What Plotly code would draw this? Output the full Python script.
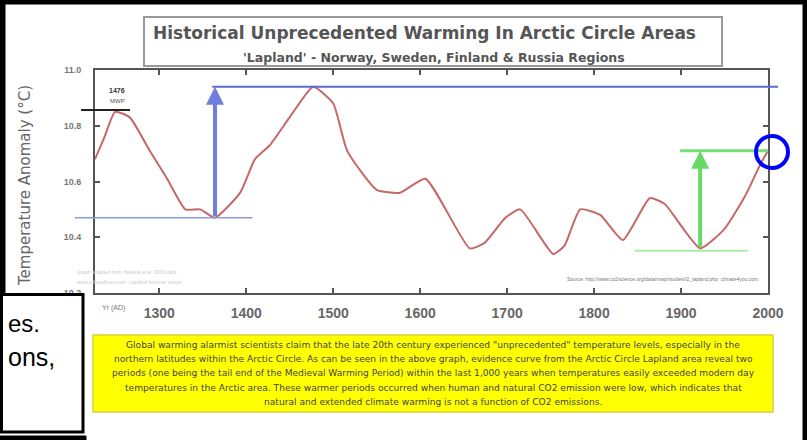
import plotly.graph_objects as go

# ---- data ----
years = [1226, 1237, 1249, 1266, 1289, 1309, 1330, 1347, 1364, 1393, 1410, 1427, 1452,
         1477, 1500, 1516, 1550, 1577, 1606, 1657, 1674, 1698, 1715, 1753, 1766, 1784,
         1807, 1833, 1864, 1881, 1922, 1950, 1974, 1991, 2000]
anomaly = [10.68, 10.76, 10.85, 10.83, 10.71, 10.61, 10.50, 10.50, 10.47, 10.56, 10.68,
           10.73, 10.84, 10.94, 10.88, 10.71, 10.57, 10.56, 10.61, 10.36, 10.38, 10.47,
           10.50, 10.34, 10.37, 10.50, 10.48, 10.39, 10.54, 10.52, 10.36, 10.43, 10.55,
           10.66, 10.71]
x_ticks = [1300, 1400, 1500, 1600, 1700, 1800, 1900, 2000]
y_ticks = [10.2, 10.4, 10.6, 10.8, 11.0]
y_tick_labels = ["10.2", "10.4", "10.6", "10.8", "11.0"]

title = "Historical Unprecedented Warming In Arctic Circle Areas"
subtitle = "'Lapland' - Norway, Sweden, Finland & Russia Regions"
y_title = "Temperature Anomaly (°C)"
note_lines = [
    "Global warming alarmist scientists claim that the late 20th century experienced \"unprecedented\" temperature levels, especially in the",
    "northern latitudes within the Arctic Circle. As can be seen in the above graph, evidence curve from the Arctic Circle Lapland area reveal two",
    "periods (one being the tail end of the Medieval Warming Period) within the last 1,000 years when temperatures easily exceeded modern day",
    "temperatures in the Arctic area. These warmer periods occurred when human and natural CO2 emission were low, which indicates that",
    "natural and extended climate warming is not a function of CO2 emissions.",
]

XMIN, XMAX = 1226, 2000
YMIN, YMAX = 10.2, 11.0
W, H = 807, 440
L, R, T, B = 95, 39, 70, 147
PW, PH = W - L - R, H - T - B


def px_x(p):  # page pixel -> paper x
    return (p - L) / PW


def px_y(p):  # page pixel -> paper y
    return (H - B - p) / PH


def dx(v):  # data year -> paper x
    return (v - XMIN) / (XMAX - XMIN)


def dy(v):  # data value -> paper y
    return (v - YMIN) / (YMAX - YMIN)


def label(x, y, text, size, color="#555", weight=400, xanchor="center", angle=0,
          family="Liberation Sans"):
    return dict(xref="paper", yref="paper", x=px_x(x), y=px_y(y), text=text,
                showarrow=False, xanchor=xanchor, yanchor="middle", textangle=angle,
                font=dict(family=family, size=size, color=color, weight=weight))


# derived annotation anchors from the data
early = [(y, v) for y, v in zip(years, anomaly) if 1300 <= y <= 1420]
min1_year, min1_val = min(early, key=lambda t: t[1])
peak_year, peak_val = max(zip(years, anomaly), key=lambda t: t[1])
late = [(y, v) for y, v in zip(years, anomaly) if y >= 1890]
min2_year, min2_val = min(late, key=lambda t: t[1])
end_val = anomaly[-1]

fig = go.Figure()
fig.add_trace(go.Scatter(x=years, y=anomaly, mode="lines",
                         line=dict(color="#c46868", width=2, shape="spline", smoothing=0.5),
                         hoverinfo="skip"))

axis_common = dict(showline=True, linecolor="#555", linewidth=2, mirror="ticks",
                   ticks="inside", ticklen=5, tickcolor="#555", tickwidth=1.5,
                   showgrid=False, zeroline=False)
fig.update_xaxes(range=[XMIN, XMAX], tickvals=x_ticks, ticklabelstandoff=6,
                 tickfont=dict(family="Liberation Sans", size=14, color="#666", weight=700),
                 **axis_common)
fig.update_yaxes(range=[YMIN, YMAX], tickvals=y_ticks, ticktext=y_tick_labels,
                 ticklabelstandoff=10,
                 tickfont=dict(family="Liberation Sans", size=9, color="#777", weight=700),
                 **axis_common)

shapes = []
ann = []

# title box
shapes.append(dict(type="rect", xref="paper", yref="paper", x0=px_x(144), x1=px_x(722),
                   y0=px_y(66), y1=px_y(17), line=dict(color="#999", width=2),
                   fillcolor="white", layer="above"))
ann.append(label(424, 33, title, 17, "#555", 700, family="DejaVu Sans"))
ann.append(label(434, 57, subtitle, 12.5, "#555", 700, family="DejaVu Sans"))

# y-axis title and x label
ann.append(label(25, 186, y_title, 15, "#666", 400, angle=-90, family="DejaVu Sans"))
ann.append(label(113, 308, "Yr (AD)", 7, "#777"))

# blue annotation
shapes.append(dict(type="line", xref="paper", yref="paper", x0=dx(min1_year) - 0.004, x1=px_x(778),
                   y0=dy(peak_val), y1=dy(peak_val), line=dict(color="#5a6bd0", width=2)))
shapes.append(dict(type="line", xref="paper", yref="paper", x0=px_x(75), x1=dx(min1_year + 43),
                   y0=dy(min1_val), y1=dy(min1_val), line=dict(color="#8a9ae0", width=1.5)))
ann.append(dict(x=min1_year, y=peak_val, ax=min1_year, ay=min1_val, axref="x", ayref="y",
                xref="x", yref="y", text="", showarrow=True, arrowhead=2, arrowsize=0.9,
                arrowwidth=4, arrowcolor="#6f7fe0"))

# green annotation
shapes.append(dict(type="line", xref="paper", yref="paper", x0=dx(min2_year - 23), x1=1.0,
                   y0=dy(end_val), y1=dy(end_val), line=dict(color="#77dd77", width=3)))
shapes.append(dict(type="line", xref="paper", yref="paper", x0=dx(min2_year - 75), x1=dx(min2_year + 55),
                   y0=dy(min2_val) - 0.01, y1=dy(min2_val) - 0.01, line=dict(color="#a6eea6", width=2)))
ann.append(dict(x=min2_year, y=end_val, ax=min2_year, ay=min2_val, axref="x", ayref="y",
                xref="x", yref="y", text="", showarrow=True, arrowhead=2, arrowsize=0.9,
                arrowwidth=4, arrowcolor="#66d966"))

# blue circle
shapes.append(dict(type="circle", xref="paper", yref="paper", x0=px_x(756), x1=px_x(788),
                   y0=px_y(168), y1=px_y(136), line=dict(color="#0000ff", width=4), layer="above"))

# small early marker
shapes.append(dict(type="line", xref="paper", yref="paper", x0=px_x(81), x1=px_x(130),
                   y0=px_y(110), y1=px_y(110), line=dict(color="#222", width=2)))
ann.append(label(117, 90, "1476", 7, "#333", 700))
ann.append(label(117, 101, "MWP", 6, "#555"))

# faint source texts
ann.append(label(760, 279, "Source: http://www.co2science.org/data/mwp/studies/l2_lapland.php  climate4you.com",
                 5, "#777", xanchor="right"))
ann.append(label(75, 272, "Graph adapted from Helama et al. 2009 data", 5, "#ccc", xanchor="left"))
ann.append(label(75, 282, "www.c3headlines.com  Lapland summer temps", 5, "#ccc", xanchor="left"))

# yellow note box
shapes.append(dict(type="rect", xref="paper", yref="paper", x0=px_x(93), x1=px_x(773),
                   y0=px_y(412), y1=px_y(335), fillcolor="#ffff00",
                   line=dict(color="#d4d43a", width=1.5)))
for i, line in enumerate(note_lines):
    ann.append(label(433, 345 + 14.2 * i, line, 9.1, "#444", family="DejaVu Sans"))

# outer frame and overlaid caption box
def block(x0, x1, y0, y1):
    return dict(type="rect", xref="paper", yref="paper", x0=px_x(x0), x1=px_x(x1),
                y0=px_y(y1), y1=px_y(y0), fillcolor="black", line=dict(color="black", width=1),
                layer="above")


shapes.append(block(0, 807, 0, 4))
shapes.append(block(0, 5, 0, 294))
shapes.append(block(803, 807, 0, 440))
shapes.append(block(0, 86, 436, 440))
shapes.append(dict(type="rect", xref="paper", yref="paper", x0=px_x(1.5), x1=px_x(83),
                   y0=px_y(432), y1=px_y(294.5), fillcolor="white",
                   line=dict(color="black", width=3), layer="above"))
ann.append(label(6, 323, "es.", 24, "black", xanchor="left"))
ann.append(label(6, 357, "ons,", 25, "black", xanchor="left"))

fig.update_layout(width=W, height=H, margin=dict(l=L, r=R, t=T, b=B, autoexpand=False),
                  paper_bgcolor="white", plot_bgcolor="white", showlegend=False,
                  shapes=shapes, annotations=ann)

fig.write_html("out.html", config={"displayModeBar": False},
               post_script="document.body.style.margin='0';")
